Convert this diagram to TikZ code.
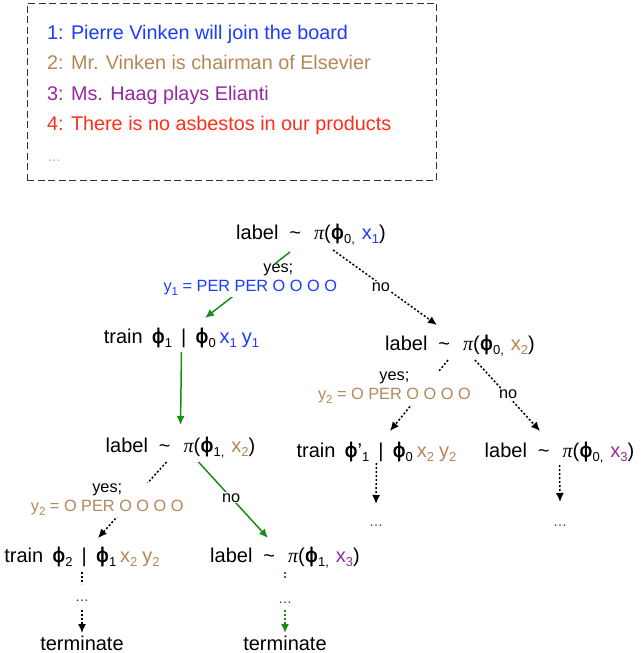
\documentclass[tikz,border=0pt]{standalone}
\usepackage{fontspec}
\setmainfont{Liberation Sans}
\newfontfamily\piserif{Liberation Serif}
\newfontfamily\phisans[FakeBold=1.2]{DejaVu Sans}
\usepackage{xcolor}
\usepackage{tikz}
\usetikzlibrary{calc, arrows.meta, positioning}
\definecolor{SentBlue}{RGB}{25, 60, 255}
\definecolor{SentTan}{RGB}{180, 135, 85}
\definecolor{SentPurple}{RGB}{150, 40, 160}
\definecolor{SentRed}{RGB}{255, 45, 25}
\definecolor{SentOrange}{RGB}{240, 150, 100}
\definecolor{PathGreen}{RGB}{25, 140, 25}
\definecolor{BoxGray}{RGB}{50, 50, 50}
\newcommand{\pis}{{\piserif\itshape π}}
\newcommand{\phib}{{\phisans ϕ}}
\newcommand{\sbs}[1]{\raisebox{-0.45ex}{\fontsize{13}{13}\selectfont #1}}
\newcommand{\sbl}[1]{\raisebox{-0.45ex}{\fontsize{11.5}{11.5}\selectfont #1}}
\newcommand{\tld}{\hspace{11pt}\textasciitilde\hspace{13pt}}
\newcommand{\gap}{\hspace{7pt}}
\newcommand{\bgap}{\hspace{9pt}}

\begin{document}
\begin{tikzpicture}[
    x=1pt, y=-1pt,
    sent/.style={anchor=base west, inner sep=0pt, font=\fontsize{19.8}{22}\selectfont},
    query/.style={anchor=base, inner sep=1pt, font=\fontsize{20}{22}\selectfont},
    dots/.style={anchor=base, inner sep=1pt, font=\fontsize{14}{16}\selectfont, text=BoxGray},
    edgelab/.style={fill=white, text=black, align=center, inner sep=1pt, font=\fontsize{16.3}{19}\selectfont},
    yesarrow/.style={-{Latex[length=9pt,width=8pt]}, line width=1.5pt, color=PathGreen},
    noarrow/.style={-{Latex[length=9pt,width=8pt]}, line width=1.5pt, dash pattern=on 2pt off 2pt},
    nolink/.style={line width=1.5pt, dash pattern=on 2pt off 2pt}
  ]
    \useasboundingbox (0,0) rectangle (640,653);

    \node[draw=BoxGray, line width=1pt, dash pattern=on 7pt off 3.5pt, minimum width=409pt, minimum height=177pt] (listbox) at (231.5,91.5) {};
    \node[sent, text=SentBlue] (s1) at (47,39.5) {1: Pierre Vinken will join the board};
    \node[sent, text=SentTan] (s2) at (47,69.5) {2: Mr. Vinken is chairman of Elsevier};
    \node[sent, text=SentPurple] (s3) at (47,100) {3: Ms. Haag plays Elianti};
    \node[sent, text=SentRed] (s4) at (47,130) {4: There is no asbestos in our products};
    \node[sent, text=SentOrange, font=\fontsize{14}{16}\selectfont] (s5) at (47,161) {\ldots};

    \node[query] (root) at (311,239) {label\tld\pis(\phib\sbs{0,}\gap{\color{SentBlue}x\sbs{1}})};
    \node[query] (train1) at (181.5,343) {train\bgap\phib\sbs{1}\bgap|\bgap\phib\sbs{0}\hspace{4pt}{\color{SentBlue}x\sbs{1}\hspace{5pt}y\sbs{1}}};
    \node[query] (labtwo) at (460,350) {label\tld\pis(\phib\sbs{0,}\gap{\color{SentTan}x\sbs{2}})};
    \node[query] (labthree) at (180.5,452) {label\tld\pis(\phib\sbs{1,}\gap{\color{SentTan}x\sbs{2}})};
    \node[query] (trainalt) at (376.5,457) {train\bgap\phib'\sbs{1}\bgap|\bgap\phib\sbs{0}\hspace{4pt}{\color{SentTan}x\sbs{2}\hspace{5pt}y\sbs{2}}};
    \node[query] (labfour) at (559.5,457) {label\tld\pis(\phib\sbs{0,}\gap{\color{SentPurple}x\sbs{3}})};
    \node[query] (train2) at (82,562) {train\bgap\phib\sbs{2}\bgap|\bgap\phib\sbs{1}\hspace{4pt}{\color{SentTan}x\sbs{2}\hspace{5pt}y\sbs{2}}};
    \node[query] (labfive) at (285,562) {label\tld\pis(\phib\sbs{1,}\gap{\color{SentPurple}x\sbs{3}})};

    \node[dots] (dotsalt) at (376,526) {\ldots};
    \node[dots] (dotsfour) at (560,526) {\ldots};
    \node[dots] (dotstwo) at (82,601) {\ldots};
    \node[dots] (dotsfive) at (285,603) {\ldots};
    \node[query] (termtwo) at (82,650) {terminate};
    \node[query] (termfive) at (285,650) {terminate};

    \draw[yesarrow] ([shift={(-21,13)}]root.base) -- node[edgelab, pos=0.42, xshift=-4pt] {\hspace*{56pt}yes;\\{\color{SentBlue}y\sbl{1} = PER PER O O O O}} ([shift={(23.5,-25)}]train1.base);
    \draw[noarrow] ([shift={(22,11)}]root.base) -- node[edgelab, pos=0.49, xshift=-3pt] {no} ([shift={(-23,-25)}]labtwo.base);
    \draw[yesarrow] ([shift={(0,9)}]train1.base) -- ([shift={(0,-27)}]labthree.base);
    \draw[noarrow] ([shift={(-12,10)}]labtwo.base) -- node[edgelab, pos=0.39, xshift=-31pt] {yes;\\{\color{SentTan}y\sbl{2} = O PER O O O O}} ([shift={(13.5,-26)}]trainalt.base);
    \draw[noarrow] ([shift={(15,10)}]labtwo.base) -- node[edgelab, pos=0.48, xshift=2pt] {no} ([shift={(-19.5,-26)}]labfour.base);
    \draw[noarrow] ([shift={(0,6)}]trainalt.base) -- ([shift={(0,-22)}]dotsalt.base);
    \draw[noarrow] ([shift={(0,8)}]labfour.base) -- ([shift={(0,-24)}]dotsfour.base);
    \draw[noarrow] ([shift={(-14,10)}]labthree.base) -- node[edgelab, pos=0.5, xshift=-25pt] {yes;\\{\color{SentTan}y\sbl{2} = O PER O O O O}} ([shift={(16,-24)}]train2.base);
    \draw[yesarrow] ([shift={(18,10)}]labthree.base) -- node[edgelab, pos=0.47] {no} ([shift={(-17,-24)}]labfive.base);
    \draw[nolink] ([shift={(0,10)}]train2.base) -- ([shift={(0,-17)}]dotstwo.base);
    \draw[noarrow] ([shift={(0,9)}]dotstwo.base) -- ([shift={(0,-17)}]termtwo.base);
    \draw[nolink, color=PathGreen] ([shift={(0,10)}]labfive.base) -- ([shift={(0,-23)}]dotsfive.base);
    \draw[noarrow, color=PathGreen] ([shift={(0,7)}]dotsfive.base) -- ([shift={(0,-17)}]termfive.base);
  \end{tikzpicture}
\end{document}
